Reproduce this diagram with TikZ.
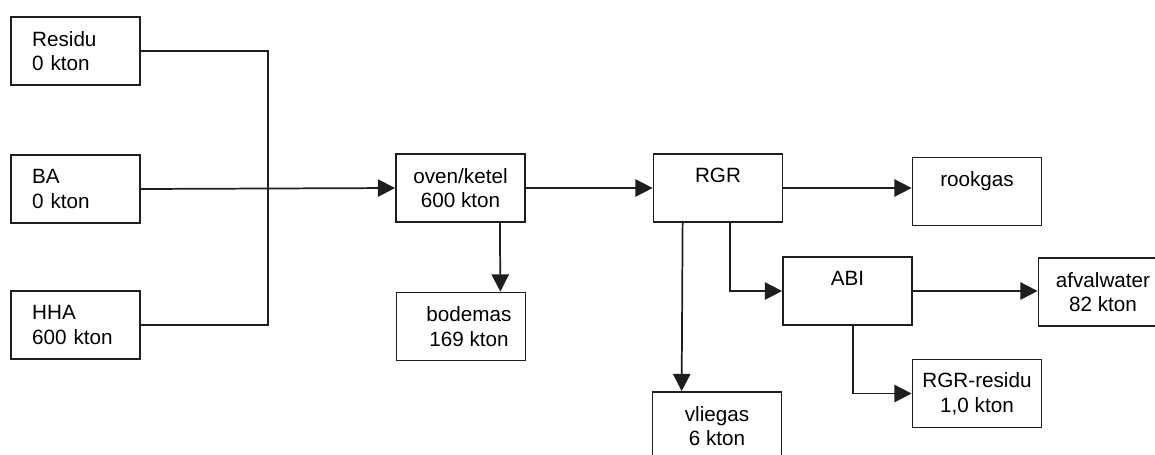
\documentclass[tikz,border=0pt]{standalone}
\usepackage{fontspec}
\setmainfont{Liberation Sans}
\usetikzlibrary{arrows.meta}

\definecolor{ink}{HTML}{1E1E1E}

\begin{document}
\begin{tikzpicture}[
  x=0.75pt, y=-0.75pt,
  font=\fontsize{15.5}{18.5}\selectfont,
  blok/.style={draw=ink, line width=1.3pt, minimum width=96.75pt,
    minimum height=51pt, align=center, inner sep=2pt},
  links/.style={blok, align=left, text width=65pt, inner xsep=15.75pt},
  lijn/.style={draw=ink, line width=1.3pt},
  pijl/.style={lijn, -{Triangle[length=13pt,width=13pt]}},
]
\useasboundingbox (0,0) rectangle (1155,454);
\clip (0,0) rectangle (1155,454);

% inputs
\node[links] (res) at (75.5, 51)  {Residu\\0 kton};
\node[links] (ba)  at (75.5, 189) {BA\\0 kton};
\node[links] (hha) at (75.5, 325) {HHA\\600 kton};

% process
\node[blok] (oven)  at (460.5, 188) {oven/ketel\\600 kton};
\node[blok] (bod)   at (461, 326.5) {\hspace{12pt}bodemas\\\hspace{12pt}169 kton};
\node[blok] (rgr)   at (718, 188)   {RGR\\~};
\node[blok] (rook)  at (977, 191.5) {rookgas\\~};
\node[blok] (vlieg) at (717, 426)   {vliegas\\6 kton};
\node[blok] (abi)   at (847.5, 291) {ABI\\~};
\node[blok] (afval) at (1103, 292)  {afvalwater\\82 kton};
\node[blok] (rres)  at (977, 393.5) {RGR-residu\\1,0 kton};

\coordinate (knoop) at (268, 189);

\draw[lijn] (res.east) -| (knoop) |- (hha.east);
\draw[pijl] (ba.east) -- (oven.west);
\draw[pijl] ([xshift=-19.5pt]oven.south east) -- ([xshift=-19.5pt]bod.north east);
\draw[pijl] (oven.east) -- (rgr.west);
\draw[pijl] (rgr.east) -- (rgr.east -| rook.west);
\draw[pijl] ([xshift=22.5pt]rgr.south west) -- ([xshift=22.5pt]vlieg.north west);
\draw[pijl] ([xshift=57.75pt]rgr.south west) |- (abi.west);
\draw[pijl] (abi.east) -- (abi.east -| afval.west);
\draw[pijl] ([xshift=53pt]abi.south west) |- (rres.west);

\end{tikzpicture}
\end{document}
